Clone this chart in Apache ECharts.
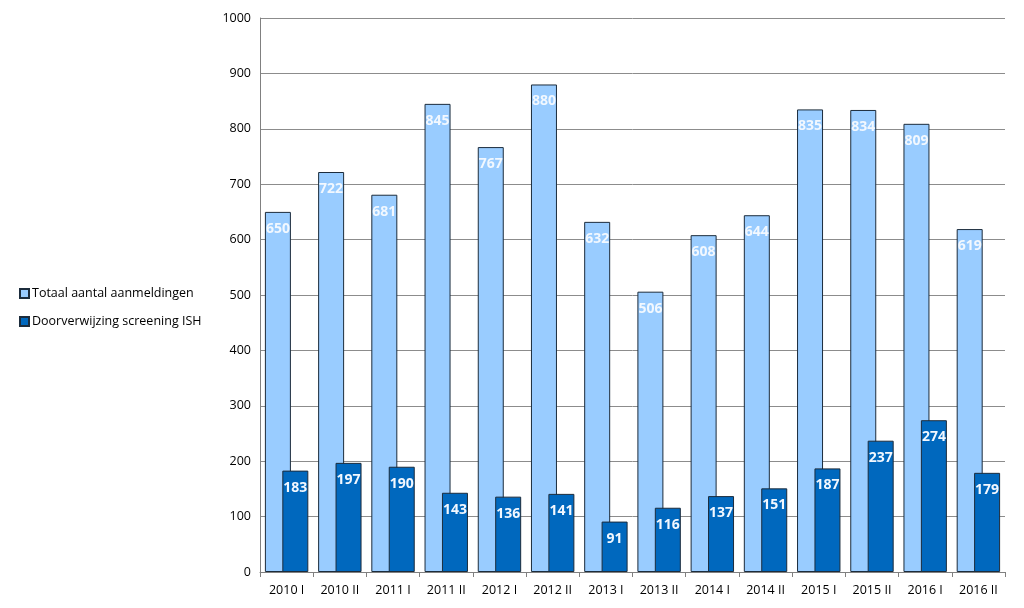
<!DOCTYPE html>
<html>
<head>
<meta charset="utf-8">
<script src="https://cdn.jsdelivr.net/npm/echarts@6/dist/echarts.min.js"></script>
<style>
html,body{margin:0;padding:0;background:#fff;}
#chart{width:1024px;height:608px;}
</style>
</head>
<body>
<div id="chart"></div>
<script>
const categories = ['2010 I','2010 II','2011 I','2011 II','2012 I','2012 II','2013 I','2013 II','2014 I','2014 II','2015 I','2015 II','2016 I','2016 II'];
const totaal = [650,722,681,845,767,880,632,506,608,644,835,834,809,619];
const doorverwijzing = [183,197,190,143,136,141,91,116,137,151,187,237,274,179];
const seriesNames = ['Totaal aantal aanmeldingen','Doorverwijzing screening ISH'];

const font = 'Open Sans';
const chart = echarts.init(document.getElementById('chart'));
chart.setOption({
  animation: false,
  textStyle: {fontFamily: font},
  legend: {
    orient: 'vertical',
    left: 14,
    top: 282,
    itemWidth: 9,
    itemHeight: 9,
    itemGap: 15,
    icon: 'rect',
    textStyle: {fontSize: 12.5, color: '#000', fontFamily: font, padding: [0,0,0,-2]},
    data: seriesNames
  },
  grid: {left: 260, right: 19, top: 18, bottom: 36, containLabel: false},
  xAxis: {
    type: 'category',
    data: categories,
    axisLine: {lineStyle: {color: '#808080'}},
    axisTick: {show: true, length: 5, lineStyle: {color: '#808080'}},
    axisLabel: {color: '#000', fontSize: 12.5, margin: 12, fontFamily: font}
  },
  yAxis: {
    type: 'value',
    min: 0, max: 1000, interval: 100,
    axisLine: {show: true, lineStyle: {color: '#808080'}},
    axisTick: {show: false},
    axisLabel: {color: '#000', fontSize: 12.5, margin: 9, fontFamily: font, formatter: v => String(v)},
    splitLine: {lineStyle: {color: '#8c8c8c', width: 1}}
  },
  series: [
    {
      name: seriesNames[0],
      type: 'bar',
      data: totaal,
      barWidth: 26,
      barGap: '-33%',
      itemStyle: {color: '#99CCFF', borderColor: '#1c2c3c', borderWidth: 1},
      label: {show: true, position: 'insideTop', distance: 10, color: '#F2F8FF', fontWeight: 'bold', fontSize: 14, fontFamily: font}
    },
    {
      name: seriesNames[1],
      type: 'bar',
      data: doorverwijzing,
      barWidth: 26,
      itemStyle: {color: '#0068BE', borderColor: '#1c2c3c', borderWidth: 1},
      label: {show: true, position: 'insideTop', distance: 10, color: '#F2F8FF', fontWeight: 'bold', fontSize: 14, fontFamily: font}
    }
  ]
});
</script>
</body>
</html>
